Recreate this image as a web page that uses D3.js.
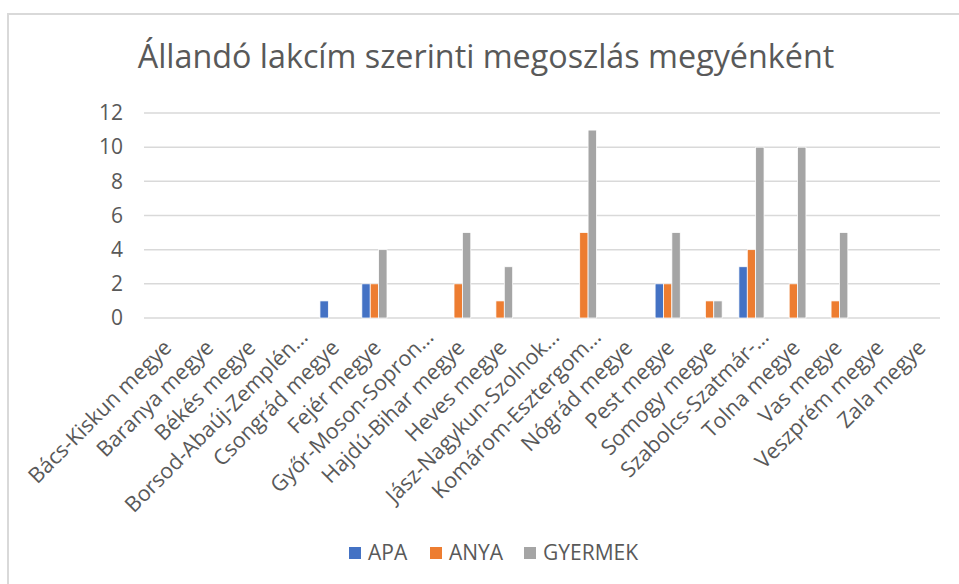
<!DOCTYPE html>
<html>
<head>
<meta charset="utf-8">
<script src="https://cdn.jsdelivr.net/npm/d3@7"></script>
<style>
  html, body { margin: 0; padding: 0; background: #fff; }
  svg { display: block; }
  text { font-family: "Open Sans", Lato, sans-serif; fill: #595959; }
</style>
</head>
<body>
<svg id="chart" width="959" height="584"></svg>
<script>
const title = "Állandó lakcím szerinti megoszlás megyénként";
const categories = [
  "Bács-Kiskun megye", "Baranya megye", "Békés megye", "Borsod-Abaúj-Zemplén…",
  "Csongrád megye", "Fejér megye", "Győr-Moson-Sopron…", "Hajdú-Bihar megye",
  "Heves megye", "Jász-Nagykun-Szolnok…", "Komárom-Esztergom…", "Nógrád megye",
  "Pest megye", "Somogy megye", "Szabolcs-Szatmár-…", "Tolna megye",
  "Vas megye", "Veszprém megye", "Zala megye"
];
const seriesNames = ["APA", "ANYA", "GYERMEK"];
const seriesColors = ["#4472C4", "#ED7D31", "#A5A5A5"];
const apa     = [0, 0, 0, 0, 1, 2, 0, 0, 0, 0, 0, 0, 2, 0, 3, 0, 0, 0, 0];
const anya    = [0, 0, 0, 0, 0, 2, 0, 2, 1, 0, 5, 0, 2, 1, 4, 2, 1, 0, 0];
const gyermek = [0, 0, 0, 0, 0, 4, 0, 5, 3, 0, 11, 0, 5, 1, 10, 10, 5, 0, 0];
const yTicks = [0, 2, 4, 6, 8, 10, 12];

const values = [apa, anya, gyermek];
const svg = d3.select("#chart");

// chart frame (left and top edges visible)
svg.append("path")
  .attr("d", "M8,600 L8,14 L970,14")
  .attr("fill", "none")
  .attr("stroke", "#d9d9d9")
  .attr("stroke-width", 2);

// title
svg.append("text")
  .attr("x", 486).attr("y", 68)
  .attr("text-anchor", "middle")
  .style("font-size", "32.3px")
  .text(title);

const plot = { left: 144, right: 940, top: 113, bottom: 318 };

const x0 = d3.scaleBand()
  .domain(categories)
  .range([plot.left, plot.right])
  .paddingInner(0.4)
  .paddingOuter(0.2);
const x1 = d3.scaleBand()
  .domain(seriesNames)
  .range([0, x0.bandwidth()]);
const y = d3.scaleLinear().domain([0, 12]).range([plot.bottom, plot.top]);

// gridlines
svg.append("g").selectAll("line").data(yTicks).join("line")
  .attr("x1", plot.left).attr("x2", plot.right)
  .attr("y1", d => y(d)).attr("y2", d => y(d))
  .attr("stroke", "#d9d9d9").attr("stroke-width", 1.5);

// y axis labels
const yAxis = d3.axisLeft(y).tickValues(yTicks).tickSize(0).tickPadding(0);
const gy = svg.append("g").attr("transform", `translate(123,0)`).call(yAxis);
gy.select(".domain").remove();
gy.selectAll("text").style("font-size", "21px").style("font-family", "'Open Sans', Lato, sans-serif").attr("fill", "#595959");

// bars
const groups = svg.append("g").selectAll("g").data(categories).join("g")
  .attr("transform", d => `translate(${x0(d)},0)`);
groups.selectAll("rect")
  .data((d, i) => seriesNames.map((s, j) => ({ s, v: values[j][i], c: seriesColors[j] })))
  .join("rect")
  .filter(d => d.v > 0)
  .attr("x", d => x1(d.s))
  .attr("width", x1.bandwidth())
  .attr("y", d => y(d.v))
  .attr("height", d => y(0) - y(d.v))
  .attr("fill", d => d.c)
  .attr("stroke", "#fff")
  .attr("stroke-width", 0.75);

// x labels
const xAxis = d3.axisBottom(x0).tickSize(0).tickPadding(0);
const gx = svg.append("g").attr("transform", `translate(0,${plot.bottom})`).call(xAxis);
gx.select(".domain").remove();
gx.selectAll(".tick text")
  .style("font-size", "21.5px").style("font-family", "'Open Sans', Lato, sans-serif")
  .attr("fill", "#595959")
  .attr("text-anchor", "end")
  .attr("dy", "0.72em")
  .attr("transform", "translate(-3,20) rotate(-45)")
  .attr("y", 0)
  .attr("x", d => d.endsWith("…") ? 15 : 0);

// legend
const legendX = [349, 430, 524];
const lg = svg.append("g").selectAll("g").data(seriesNames).join("g")
  .attr("transform", (d, i) => `translate(${legendX[i]},547)`);
lg.append("rect").attr("width", 12).attr("height", 12)
  .attr("fill", (d, i) => seriesColors[i]);
lg.append("text").attr("x", 19).attr("y", 12.5)
  .style("font-size", "21px")
  .text(d => d);
</script>
</body>
</html>
